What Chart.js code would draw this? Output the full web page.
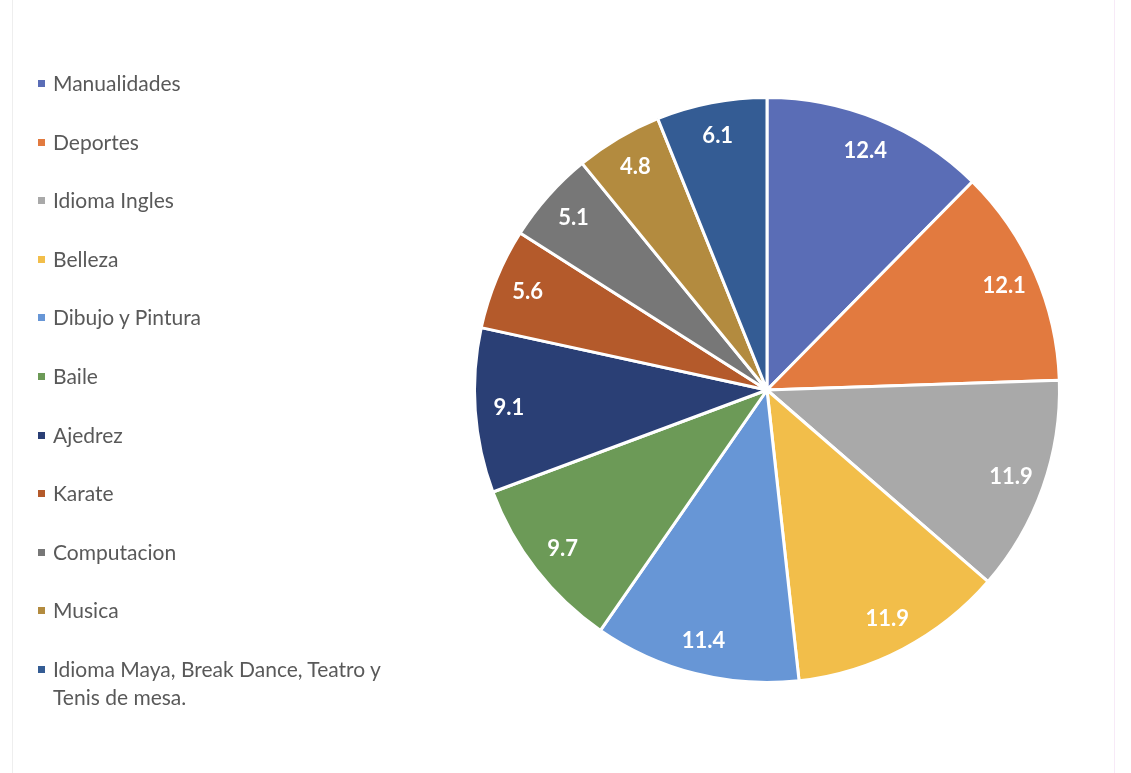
<!DOCTYPE html>
<html>
<head>
<meta charset="utf-8">
<script src="https://cdn.jsdelivr.net/npm/chart.js@4"></script>
<style>
  html, body { margin: 0; padding: 0; background: #ffffff; }
  #wrap { position: relative; width: 1131px; height: 773px; overflow: hidden; }
  #frameL { position: absolute; left: 12px; top: 0; width: 1px; height: 773px; background: #eeeeee; }
  #frameR { position: absolute; left: 1114px; top: 0; width: 1px; height: 773px; background: #f7eaf7; }
  canvas { position: absolute; left: 0; top: 0; }
  #legend { position: absolute; left: 0; top: 0; font-family: Lato, "Open Sans", sans-serif; font-size: 21px; color: #595959; }
  .item { position: absolute; left: 38px; width: 380px; line-height: 28px; }
  .box { position: absolute; left: 0; top: 11px; width: 7px; height: 7px; }
  .txt { position: absolute; left: 15px; width: 345px; }
</style>
</head>
<body>
<div id="wrap">
  <div id="frameL"></div>
  <div id="frameR"></div>
  <canvas id="c" width="1131" height="773"></canvas>
  <div id="legend"></div>
</div>
<script>
const categories = [
  "Manualidades",
  "Deportes",
  "Idioma Ingles",
  "Belleza",
  "Dibujo y Pintura",
  "Baile",
  "Ajedrez",
  "Karate",
  "Computacion",
  "Musica",
  "Idioma Maya, Break Dance, Teatro y Tenis de mesa."
];
const values = [12.4, 12.1, 11.9, 11.9, 11.4, 9.7, 9.1, 5.6, 5.1, 4.8, 6.1];
const colors = [
  "#5A6DB6", "#E27A3F", "#A9A9A9", "#F2BE4A", "#6796D6", "#6C9A57",
  "#2A3F75", "#B45A2B", "#777777", "#B38B3F", "#345C94"
];

const labelPlugin = {
  id: 'sliceLabels',
  afterDatasetsDraw(chart) {
    const ctx = chart.ctx;
    const meta = chart.getDatasetMeta(0);
    ctx.save();
    ctx.font = 'bold 22px Lato, "Open Sans", sans-serif';
    ctx.fillStyle = '#ffffff';
    ctx.textAlign = 'center';
    ctx.textBaseline = 'middle';
    meta.data.forEach((arc, i) => {
      const p = arc.getProps(['x', 'y', 'startAngle', 'endAngle', 'outerRadius'], true);
      const mid = (p.startAngle + p.endAngle) / 2;
      const r = p.outerRadius * 0.885;
      ctx.fillText(values[i].toFixed(1), p.x + Math.cos(mid) * r, p.y + Math.sin(mid) * r);
    });
    ctx.restore();
  }
};

new Chart(document.getElementById('c'), {
  type: 'pie',
  data: {
    labels: categories,
    datasets: [{
      data: values,
      backgroundColor: colors,
      borderColor: '#ffffff',
      borderWidth: 3
    }]
  },
  options: {
    responsive: false,
    animation: false,
    layout: { padding: { left: 473, right: 70, top: 96, bottom: 89 } },
    plugins: {
      legend: { display: false },
      tooltip: { enabled: false }
    }
  },
  plugins: [labelPlugin]
});

// HTML legend built from the data arrays
const legend = document.getElementById('legend');
categories.forEach((name, i) => {
  const item = document.createElement('div');
  item.className = 'item';
  item.style.top = (83 + i * 58.6 - 14) + 'px';
  const box = document.createElement('div');
  box.className = 'box';
  box.style.background = colors[i];
  const txt = document.createElement('div');
  txt.className = 'txt';
  txt.textContent = name;
  item.appendChild(box);
  item.appendChild(txt);
  legend.appendChild(item);
});
</script>
</body>
</html>
